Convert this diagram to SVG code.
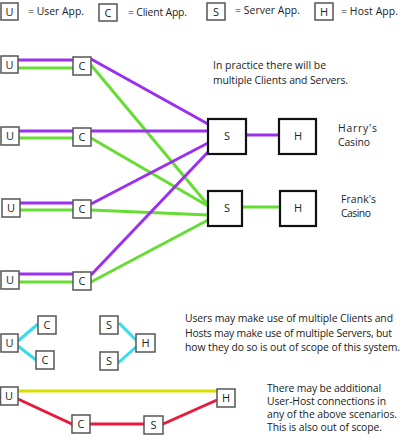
<svg xmlns="http://www.w3.org/2000/svg" width="402" height="442" viewBox="0 0 402 442">
<style>
text{font-family:"Open Sans","Noto Sans","Liberation Sans",sans-serif;font-size:10.4px;fill:#222}
.sb{fill:#fff;stroke:#555;stroke-width:1.5}
.bb{fill:#fff;stroke:#111;stroke-width:2.2}
.lbl{text-anchor:middle;font-size:11px}
.p{stroke:#9b30f0;stroke-width:3;fill:none}
.g{stroke:#66dd33;stroke-width:3;fill:none}
.cy{stroke:#33dded;stroke-width:3;fill:none}
.y{stroke:#d6df00;stroke-width:3;fill:none}
.r{stroke:#e8193c;stroke-width:3;fill:none}
</style>
<rect width="402" height="442" fill="#fff"/>
<g id="connectors">
<line class="p" x1="18" y1="60" x2="73" y2="60"/>
<line class="g" x1="18" y1="68" x2="73" y2="68"/>
<line class="p" x1="19" y1="131" x2="73" y2="131"/>
<line class="g" x1="19" y1="138" x2="73" y2="138"/>
<line class="p" x1="20" y1="203" x2="73" y2="203"/>
<line class="g" x1="20" y1="210" x2="73" y2="210"/>
<line class="p" x1="19" y1="274" x2="73" y2="274"/>
<line class="g" x1="19" y1="282" x2="73" y2="282"/>
<line class="p" x1="91" y1="59" x2="208" y2="124"/>
<line class="g" x1="91" y1="65" x2="208" y2="205"/>
<line class="p" x1="91" y1="131" x2="208" y2="131"/>
<line class="g" x1="91" y1="138" x2="208" y2="206"/>
<line class="p" x1="91" y1="204" x2="208" y2="143"/>
<line class="g" x1="91" y1="210" x2="208" y2="215"/>
<line class="p" x1="91" y1="275" x2="208" y2="152"/>
<line class="g" x1="91" y1="282" x2="208" y2="220"/>
<line class="p" x1="246" y1="135" x2="279" y2="135"/>
<line class="g" x1="242" y1="207" x2="280" y2="207"/>
<line class="cy" x1="18" y1="341" x2="38" y2="324"/>
<line class="cy" x1="18" y1="346" x2="36" y2="360"/>
<line class="cy" x1="119" y1="323" x2="136" y2="340"/>
<line class="cy" x1="118" y1="363" x2="136" y2="347"/>
<line class="y" x1="18" y1="391" x2="217" y2="391"/>
<polyline class="r" points="18,399 72,424 144,424"/>
<line class="r" x1="163" y1="424" x2="217" y2="400"/>
</g>
<g id="legend">
<rect class="sb" x="1" y="3" width="17" height="17"/><text class="lbl" x="9.5" y="15.5">U</text>
<text x="28" y="15" textLength="56">= User App.</text>
<rect class="sb" x="99" y="4" width="18" height="17"/><text class="lbl" x="108" y="16.5">C</text>
<text x="128" y="16" textLength="59">= Client App.</text>
<rect class="sb" x="207" y="3" width="18" height="17"/><text class="lbl" x="216" y="15.5">S</text>
<text x="235" y="14" textLength="65">= Server App.</text>
<rect class="sb" x="315" y="3" width="18" height="17"/><text class="lbl" x="324" y="15.5">H</text>
<text x="341" y="15" textLength="57">= Host App.</text>
</g>
<g id="u1"><rect class="sb" x="1" y="56" width="17" height="17"/><text class="lbl" x="9.5" y="68.5">U</text></g>
<g id="c1"><rect class="sb" x="73" y="57" width="18" height="18"/><text class="lbl" x="82" y="70">C</text></g>
<g id="u2"><rect class="sb" x="1" y="127" width="18" height="18"/><text class="lbl" x="10" y="140">U</text></g>
<g id="c2"><rect class="sb" x="73" y="128" width="18" height="18"/><text class="lbl" x="82" y="141">C</text></g>
<g id="u3"><rect class="sb" x="2" y="199" width="18" height="18"/><text class="lbl" x="11" y="212">U</text></g>
<g id="c3"><rect class="sb" x="73" y="200" width="18" height="18"/><text class="lbl" x="82" y="213">C</text></g>
<g id="u4"><rect class="sb" x="1" y="271" width="18" height="18"/><text class="lbl" x="10" y="284">U</text></g>
<g id="c4"><rect class="sb" x="73" y="272" width="18" height="18"/><text class="lbl" x="82" y="285">C</text></g>
<g id="s1"><rect class="bb" x="208" y="119" width="38" height="35"/><text class="lbl" x="227" y="140">S</text></g>
<g id="h1"><rect class="bb" x="279" y="119" width="37" height="35"/><text class="lbl" x="298" y="140">H</text></g>
<g id="s2"><rect class="bb" x="208" y="191" width="34" height="35"/><text class="lbl" x="227" y="212">S</text></g>
<g id="h2"><rect class="bb" x="280" y="191" width="36" height="35"/><text class="lbl" x="298" y="212">H</text></g>
<g id="note1"><text x="213" y="69" textLength="113">In practice there will be</text><text x="213" y="84" textLength="135">multiple Clients and Servers.</text></g>
<g id="harry"><text x="338" y="132" textLength="39">Harry's</text><text x="338" y="146" textLength="32">Casino</text></g>
<g id="frank"><text x="341" y="203" textLength="35">Frank's</text><text x="341" y="217" textLength="30">Casino</text></g>
<g id="bu1"><rect class="sb" x="1" y="334" width="17" height="18"/><text class="lbl" x="9.5" y="347">U</text></g>
<g id="bc1"><rect class="sb" x="38" y="316" width="18" height="18"/><text class="lbl" x="47" y="329">C</text></g>
<g id="bc2"><rect class="sb" x="36" y="351" width="18" height="18"/><text class="lbl" x="45" y="364">C</text></g>
<g id="bs1"><rect class="sb" x="100" y="316" width="18" height="18"/><text class="lbl" x="109" y="329">S</text></g>
<g id="bs2"><rect class="sb" x="100" y="352" width="18" height="18"/><text class="lbl" x="109" y="365">S</text></g>
<g id="bh1"><rect class="sb" x="136" y="334" width="19" height="18"/><text class="lbl" x="145.5" y="347">H</text></g>
<g id="note2"><text x="185" y="322" textLength="208">Users may make use of multiple Clients and</text><text x="185" y="336.5" textLength="207">Hosts may make use of multiple Servers, but</text><text x="185" y="351" textLength="215">how they do so is out of scope of this system.</text></g>
<g id="xu"><rect class="sb" x="0.5" y="387" width="17.5" height="18"/><text class="lbl" x="9" y="400">U</text></g>
<g id="xc"><rect class="sb" x="72" y="415" width="18" height="18"/><text class="lbl" x="81" y="428">C</text></g>
<g id="xs"><rect class="sb" x="144" y="416" width="19" height="18"/><text class="lbl" x="153.5" y="429">S</text></g>
<g id="xh"><rect class="sb" x="217" y="389" width="18" height="18"/><text class="lbl" x="226" y="402">H</text></g>
<g id="note3"><text x="267" y="392" textLength="114">There may be additional</text><text x="267" y="405" textLength="119">User-Host connections in</text><text x="267" y="418" textLength="130">any of the above scenarios.</text><text x="267" y="431" textLength="115">This is also out of scope.</text></g>
</svg>
